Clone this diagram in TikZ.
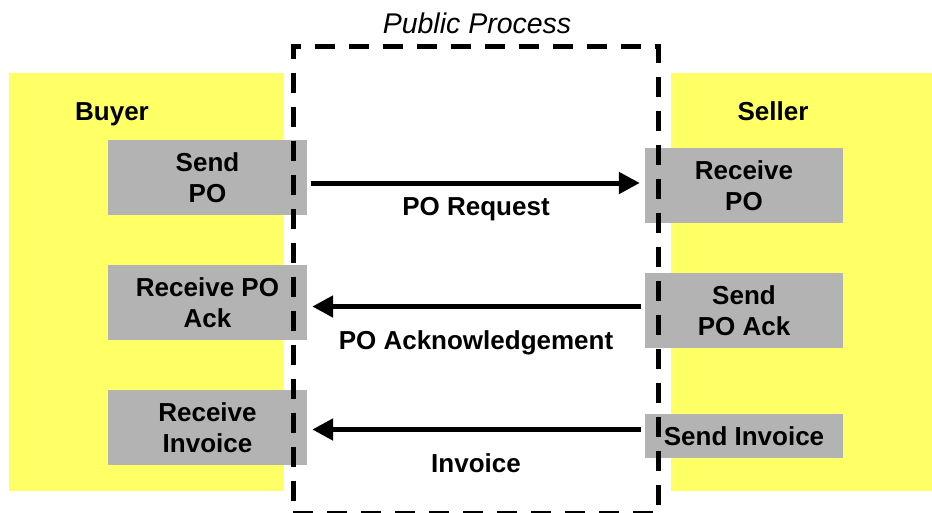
\documentclass[tikz,border=0pt]{standalone}
\usepackage{fontspec}
\setmainfont{Liberation Sans}
\usetikzlibrary{arrows.meta,positioning}
\definecolor{laneyellow}{RGB}{255,255,102}
\definecolor{taskgray}{RGB}{179,179,179}

\begin{document}
\begin{tikzpicture}[x=1pt, y=-1pt,
    lane/.style={rectangle, fill=laneyellow, inner sep=0pt, minimum width=#1, minimum height=418pt},
    task/.style={rectangle, fill=taskgray, inner sep=0pt, align=center, minimum width=199pt, minimum height=75pt, font=\fontsize{26}{31.5}\selectfont\bfseries},
    msg/.style={-{Triangle[length=21pt,width=21pt]}, line width=5pt, shorten <=4pt, shorten >=5pt},
    boldtext/.style={font=\fontsize{26}{31.5}\selectfont\bfseries, inner sep=0pt, anchor=base}]
    \useasboundingbox (0,0) rectangle (932,512);

    % buyer and seller lanes
    \node[lane=275pt] (buyer) at (146.5,282) {};
    \node[lane=261pt] (seller) at (801.5,282) {};
    \node[boldtext] (buyerlabel) at (112,120) {Buyer};
    \node[boldtext] (sellerlabel) at (773,120) {Seller};

    \node[task] (sendpo) at (207.5,177.5) {Send\\PO};
    \node[task] (recvack) at (207.5,302.5) {Receive PO\\Ack};
    \node[task] (recvinv) at (207.5,427.5) {Receive\\Invoice};
    \node[task, minimum width=198pt] (recvpo) at (744,185.5) {Receive\\PO};
    \node[task, minimum width=198pt] (sendack) at (744,310.5) {Send\\PO Ack};
    \node[task, minimum width=198pt, minimum height=44pt] (sendinv) at (744,436) {Send Invoice};

    % public process
    \node[draw, dash pattern=on 20pt off 14pt, line width=5pt, minimum width=365pt, minimum height=467.5pt, inner sep=0pt] (public) at (475.5,279.75) {};
    \node[font=\fontsize{28.5}{34}\selectfont\itshape, inner sep=0pt, anchor=base] (publiclabel) at (477,33) {Public Process};

    \draw[msg] ([yshift=-5.5pt]sendpo.east) -- node[boldtext, yshift=-32pt] (poreq) {PO Request} ([yshift=2.5pt]recvpo.west);
    \draw[msg] ([yshift=4pt]sendack.west) -- node[boldtext, yshift=-42.5pt] (poack) {PO Acknowledgement} ([yshift=-4pt]recvack.east);
    \draw[msg] ([yshift=6.5pt]sendinv.west) -- node[boldtext, yshift=-42.5pt] (invoice) {Invoice} ([yshift=-2pt]recvinv.east);
\end{tikzpicture}
\end{document}
